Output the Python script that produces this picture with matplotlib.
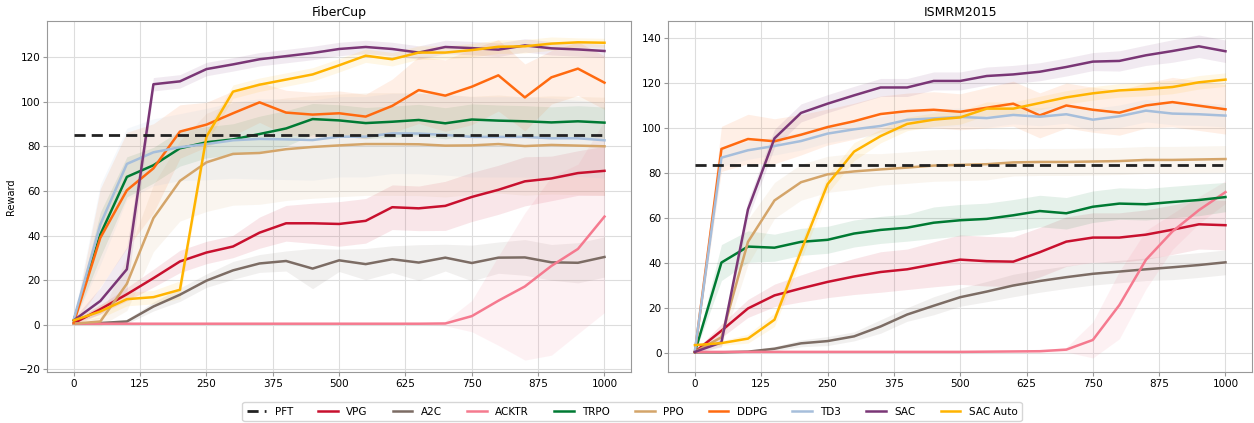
import numpy as np
import matplotlib
matplotlib.use("Agg")
import matplotlib.pyplot as plt

# training steps (x axis)
steps = list(range(0, 1001, 50))

methods = ["VPG", "A2C", "ACKTR", "TRPO", "PPO", "DDPG", "TD3", "SAC", "SAC Auto"]
colors = ["#c8102e", "#7c6c64", "#f57a8f", "#007a33", "#d4a56a",
          "#ff6a10", "#a6bedb", "#7a3676", "#ffb400"]

# ---- FiberCup: mean reward
fc_pft = 85.2
fc_vpg = [0.7, 7, 13.7, 20.9, 28.4, 32.4, 35.1, 41.3, 45.5, 45.5, 45.2, 46.6,
          52.7, 52.2, 53.3, 57.3, 60.5, 64.3, 65.6, 68, 69]
fc_a2c = [0.5, 0.8, 1.5, 8.2, 13.5, 19.8, 24.4, 27.5, 28.6, 25.2, 28.9, 27.2,
          29.4, 27.9, 30.1, 27.7, 30.1, 30.2, 28, 27.8, 30.4]
fc_acktr = [0.5, 0.5, 0.5, 0.5, 0.5, 0.5, 0.5, 0.5, 0.5, 0.5, 0.5, 0.5,
            0.5, 0.5, 0.6, 3.9, 10.8, 17.2, 26.4, 34, 48.5]
fc_trpo = [2, 40.5, 66.3, 71.5, 79.1, 81.8, 83.1, 85.5, 88, 92.2, 91.6, 90.4,
           91, 91.8, 90.3, 92, 91.5, 91.2, 90.7, 91.2, 90.6]
fc_ppo = [0.5, 1.5, 18.4, 47.8, 64.5, 72.8, 76.6, 77, 78.7, 79.7, 80.4, 81,
          81, 80.9, 80.3, 80.4, 81, 80.1, 80.6, 80.3, 80]
fc_ddpg = [1, 39, 60.3, 70.1, 86.6, 89.7, 94.8, 99.7, 95.1, 94.2, 94.8, 93.3,
           98.1, 105.2, 102.7, 106.7, 111.8, 101.9, 110.9, 114.8, 108.5]
fc_td3 = [2.5, 45, 72.1, 77.3, 79.6, 81, 82.7, 83.3, 83.1, 82.8, 84.3, 84.3,
          85.8, 85.7, 85.1, 84.2, 84.2, 84.2, 83.6, 83.6, 82.7]
fc_sac = [2, 10.7, 24.9, 107.8, 109.1, 114.6, 116.7, 119, 120.4, 121.8, 123.6, 124.5,
          123.6, 122, 124.5, 124, 123.3, 125.2, 123.9, 123.4, 122.7]
fc_sac_auto = [2, 6, 11.5, 12.4, 15.7, 84.3, 104.5, 107.6, 109.9, 112.2, 116.3, 120.6,
               119, 122, 122, 123.1, 124.6, 124.8, 126, 126.6, 126.4]

# ---- FiberCup: spread of the shaded bands
fc_vpg_sd = [1, 2, 3, 4, 5, 5, 5, 7, 8, 9, 10, 10, 10, 10, 11, 11, 11, 11, 10, 10, 11]
fc_a2c_sd = [0.5, 0.5, 1, 2, 3, 3, 4, 4, 4.5, 9, 5, 7, 6, 8, 6, 8, 7, 8, 8, 9, 9]
fc_acktr_sd = [0.3, 0.3, 0.3, 0.3, 0.3, 0.3, 0.3, 0.3, 0.3, 0.3, 0.3, 0.3,
               0.3, 0.3, 1, 7, 20, 33, 40, 38, 43]
fc_trpo_sd = [1, 10, 9, 8, 8, 7, 7, 8, 8, 7, 7, 7, 7, 7, 7, 7, 7, 7, 7, 7, 7]
fc_ppo_sd = [0.5, 2, 12, 15, 18, 22, 23, 23, 23, 23, 23, 23, 23, 23, 23, 22, 22, 22, 22, 22, 22]
fc_ddpg_sd = [1, 22, 26, 20, 12, 10, 10, 9, 10, 10, 10, 10, 12, 15, 16, 17, 16, 15, 12, 12, 12]
fc_td3_sd = [1, 18, 16, 15, 15, 16, 17, 18, 18, 18, 18, 18, 18, 18, 18, 18, 18, 18, 18, 17, 17]
fc_sac_sd = [1, 6, 10, 3, 3, 3, 3, 3, 3, 3, 3, 3, 3, 3, 3, 3, 3, 3, 3, 3, 3]
fc_sac_auto_sd = [1, 3, 3, 3, 4, 3, 3, 3, 3, 3, 3, 3, 3, 3, 3, 3, 3, 3, 3, 2, 2]

# ---- ISMRM2015: mean reward
is_pft = 83.6
is_vpg = [0.5, 9.9, 19.8, 25.6, 28.7, 31.6, 34, 36, 37.2, 39.4, 41.5, 40.8,
          40.6, 44.8, 49.5, 51.3, 51.3, 52.6, 54.8, 57.2, 56.8]
is_a2c = [0.3, 0.3, 0.6, 1.9, 4.3, 5.3, 7.4, 11.8, 17.1, 21, 24.8, 27.3,
          30, 32, 33.7, 35.2, 36.2, 37.2, 38.1, 39.1, 40.3]
is_acktr = [0.5, 0.5, 0.5, 0.5, 0.5, 0.5, 0.5, 0.5, 0.5, 0.5, 0.5, 0.6,
            0.7, 0.8, 1.5, 5.8, 21.3, 41.4, 54, 63.5, 71.5]
is_trpo = [0.5, 40.2, 47.3, 46.8, 49.4, 50.3, 53.1, 54.7, 55.7, 57.9, 59, 59.6,
           61.2, 63.1, 62.1, 65, 66.4, 66.1, 67.1, 68, 69.3]
is_ppo = [0.5, 7, 49.4, 67.8, 75.9, 79.4, 80.7, 81.6, 82.4, 83.3, 83.6, 83.9,
          84.7, 84.9, 84.9, 85.1, 85.3, 85.8, 85.8, 86, 86.2]
is_ddpg = [0.5, 90.7, 95.1, 94.1, 97, 100.4, 103, 106.2, 107.5, 108.1, 107.2, 109,
           110.8, 105.6, 110, 108.1, 106.8, 110, 111.5, 109.9, 108.3]
is_td3 = [1, 86.8, 90.1, 92, 94.2, 97.5, 99.4, 100.9, 103.6, 104.3, 104.9, 104.4,
          105.8, 105, 106.1, 103.7, 105.2, 107.7, 106.4, 106.1, 105.5]
is_sac = [0.5, 4.7, 63.8, 95.4, 106.7, 110.8, 114.5, 118, 118, 120.9, 120.9, 123.1,
          123.8, 125, 127.1, 129.5, 129.8, 132.3, 134.2, 136.3, 134.1]
is_sac_auto = [3.5, 4.4, 6.4, 14.8, 45.3, 75, 89.5, 96.4, 101.8, 103.7, 104.7, 108.6,
               108.6, 111.1, 113.6, 115.4, 116.7, 117.3, 118.2, 120.3, 121.5]

# ---- ISMRM2015: spread of the shaded bands
is_vpg_sd = [0.5, 3, 4, 5, 6, 7, 8, 9, 9, 10, 11, 11, 11, 11, 11, 11, 11, 11, 11, 11, 11]
is_a2c_sd = [0.3, 0.3, 0.5, 1, 1.5, 2, 2, 3, 3, 4, 4, 4.5, 5, 5, 5, 5, 5, 5, 5.5, 5.5, 5.5]
is_acktr_sd = [0.3, 0.3, 0.3, 0.3, 0.3, 0.3, 0.3, 0.3, 0.3, 0.3, 0.3, 0.3,
               0.3, 0.5, 1, 8, 15, 13, 8, 6, 5]
is_trpo_sd = [0.5, 8, 7, 6, 6, 6, 6, 6, 6, 7, 7, 7, 7, 7, 7, 7, 7, 7, 7, 7, 6.5]
is_ppo_sd = [0.5, 4, 10, 8, 8, 8, 8, 7, 7, 7, 7, 7, 6, 6, 6, 6, 6, 6, 6, 6, 6]
is_ddpg_sd = [0.5, 10, 11, 10, 9, 8, 8, 8, 8, 8, 8, 9, 10, 10, 10, 10, 10, 10, 11, 11, 11]
is_td3_sd = [0.5, 4, 4, 4, 4, 4, 4, 4, 4, 4, 4, 4, 4, 4, 4, 5, 5, 5, 5, 5, 5]
is_sac_sd = [0.5, 2, 4, 4, 4, 4, 4, 4, 4, 4, 4, 4, 4, 4, 4, 4, 4.5, 4.5, 5, 5, 5]
is_sac_auto_sd = [1, 1, 2, 3, 4, 4, 4, 3, 3, 3, 3, 3, 3, 3, 3, 3, 3, 3, 3, 3, 3]

fc_means = [fc_vpg, fc_a2c, fc_acktr, fc_trpo, fc_ppo, fc_ddpg, fc_td3, fc_sac, fc_sac_auto]
fc_sds = [fc_vpg_sd, fc_a2c_sd, fc_acktr_sd, fc_trpo_sd, fc_ppo_sd, fc_ddpg_sd,
          fc_td3_sd, fc_sac_sd, fc_sac_auto_sd]
is_means = [is_vpg, is_a2c, is_acktr, is_trpo, is_ppo, is_ddpg, is_td3, is_sac, is_sac_auto]
is_sds = [is_vpg_sd, is_a2c_sd, is_acktr_sd, is_trpo_sd, is_ppo_sd, is_ddpg_sd,
          is_td3_sd, is_sac_sd, is_sac_auto_sd]

xticks = [0, 125, 250, 375, 500, 625, 750, 875, 1000]

plt.rcParams['font.family'] = ['DejaVu Sans']

fig = plt.figure(figsize=(12.54, 4.23), dpi=100)
ax_fc = fig.add_axes([0.0377, 0.1213, 0.4655, 0.8283])
ax_is = fig.add_axes([0.5330, 0.1213, 0.4654, 0.8283])


def draw_panel(ax, title, pft, means, sds, ylim, yticks):
    ax.plot([steps[0], steps[-1]], [pft, pft], color="#222222", lw=2,
            ls=(0, (4, 2.2)), label="PFT", zorder=5)
    for name, col, m, s in zip(methods, colors, means, sds):
        m = np.array(m, dtype=float)
        s = np.array(s, dtype=float)
        ax.fill_between(steps, m - s, m + s, color=col, alpha=0.1, lw=0)
        ax.plot(steps, m, color=col, lw=1.8, label=name, zorder=4)
    ax.set_title(title, fontsize=9, pad=4)
    ax.set_xlim(-50, 1050)
    ax.set_ylim(*ylim)
    ax.set_xticks(xticks)
    ax.set_yticks(yticks)
    ax.grid(True, color="#dddddd", lw=0.8)
    ax.set_axisbelow(True)
    ax.tick_params(labelsize=7.5, length=3, color="#999999", pad=2)
    for sp in ax.spines.values():
        sp.set_color("#999999")


draw_panel(ax_fc, "FiberCup", fc_pft, fc_means, fc_sds, (-21, 136),
           [-20, 0, 20, 40, 60, 80, 100, 120])
draw_panel(ax_is, "ISMRM2015", is_pft, is_means, is_sds, (-8.3, 147.4),
           [0, 20, 40, 60, 80, 100, 120, 140])
ax_fc.set_ylabel("Reward", fontsize=7, labelpad=2)

handles, labels = ax_fc.get_legend_handles_labels()
fig.legend(handles, labels, loc="center", bbox_to_anchor=(0.504, 0.027),
           ncol=10, fontsize=7.5, frameon=True, edgecolor="#cccccc",
           handlelength=1.9, columnspacing=2.4, borderpad=0.4)

fig.savefig("out.png", dpi=100)
